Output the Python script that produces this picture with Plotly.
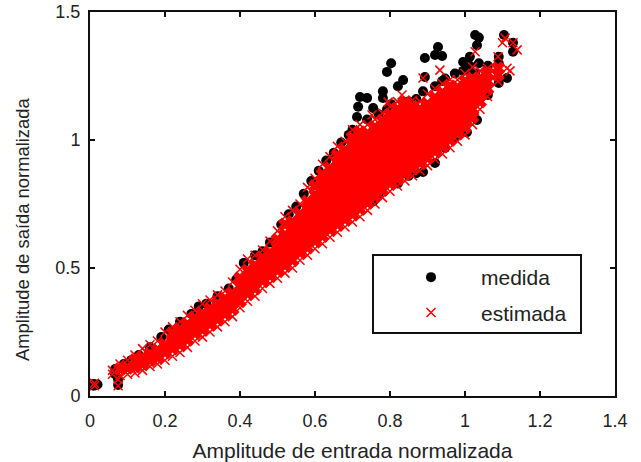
import plotly.graph_objects as go

x_ticks = [0, 0.2, 0.4, 0.6, 0.8, 1, 1.2, 1.4]
y_ticks = [0, 0.5, 1, 1.5]

medida_rows = [
    (0.01, [0.04, 0.047]), (0.02, [0.045]), (0.067, [0.085, 0.105]), (0.075, [0.043, 0.065]),
    (0.09, [0.125, 0.11]), (0.11, [0.14, 0.11]), (0.13, [0.16, 0.13]), (0.16, [0.19, 0.15]),
    (0.19, [0.23, 0.17]), (0.21, [0.26, 0.20]), (0.24, [0.29, 0.23]), (0.27, [0.32, 0.26]),
    (0.29, [0.35, 0.28]), (0.31, [0.36, 0.29]), (0.34, [0.39, 0.32]), (0.37, [0.42, 0.35]),
    (0.39, [0.455, 0.38]), (0.41, [0.52, 0.40]), (0.44, [0.55, 0.43]), (0.46, [0.565, 0.46]),
    (0.48, [0.60, 0.49]), (0.51, [0.67, 0.53]), (0.53, [0.71, 0.55]), (0.55, [0.74, 0.56]),
    (0.57, [0.79, 0.58]), (0.59, [0.84, 0.61]), (0.61, [0.88, 0.63]), (0.63, [0.92, 0.65]),
    (0.65, [0.95, 0.67]), (0.67, [0.99, 0.69]), (0.69, [1.02, 0.71]), (0.70, [1.04, 0.72]),
    (0.712, [1.09]), (0.715, [1.13]), (0.72, [1.168]), (0.739, [1.164, 1.08]), (0.755, [1.125, 0.76]),
    (0.77, [1.10, 0.79]), (0.781, [1.164, 1.19]), (0.792, [1.266, 1.12]), (0.803, [1.30, 1.14]),
    (0.821, [1.21, 0.83]), (0.835, [1.234, 1.15]), (0.85, [1.15, 0.86]), (0.87, [1.16, 0.87]),
    (0.888, [0.875, 1.19]), (0.893, [1.246, 1.32]), (0.92, [1.332, 1.21, 0.91]), (0.928, [1.363]),
    (0.939, [1.328, 1.23]), (0.947, [0.969, 1.24]), (0.973, [1.008, 1.26]), (0.995, [1.305, 1.27]),
    (1.005, [1.273, 1.03]), (1.013, [1.325, 1.29]), (1.027, [1.41, 1.26]), (1.032, [1.37, 1.078]),
    (1.037, [1.40, 1.30]), (1.061, [1.176, 1.29]), (1.09, [1.325, 1.223, 1.30]), (1.104, [1.41]),
    (1.112, [1.242]), (1.128, [1.38, 1.345]),
]

estimada_rows = [
    (0.012, [0.04, 0.05]), (0.075, [0.04, 0.065]),
    (0.06, [0.085, 0.10]), (0.08, [0.08, 0.105, 0.125]), (0.10, [0.085, 0.11, 0.14]),
    (0.12, [0.09, 0.115, 0.14, 0.16]), (0.14, [0.10, 0.125, 0.15, 0.185]),
    (0.16, [0.115, 0.14, 0.165, 0.20]), (0.18, [0.125, 0.15, 0.18, 0.215]),
    (0.20, [0.14, 0.17, 0.20, 0.25]), (0.22, [0.155, 0.185, 0.215, 0.245, 0.27]),
    (0.24, [0.17, 0.20, 0.23, 0.26, 0.29]), (0.26, [0.19, 0.22, 0.25, 0.28, 0.315]),
    (0.28, [0.215, 0.245, 0.275, 0.305, 0.335]), (0.30, [0.23, 0.26, 0.29, 0.32, 0.36]),
    (0.32, [0.25, 0.28, 0.31, 0.34, 0.375]), (0.34, [0.27, 0.30, 0.33, 0.36, 0.395]),
    (0.36, [0.29, 0.32, 0.35, 0.38, 0.41]), (0.38, [0.31, 0.34, 0.37, 0.40, 0.445]),
    (0.40, [0.345, 0.37, 0.40, 0.43, 0.46, 0.495]), (0.42, [0.37, 0.40, 0.43, 0.46, 0.49, 0.535]),
    (0.44, [0.39, 0.42, 0.45, 0.48, 0.51, 0.55]), (0.46, [0.42, 0.45, 0.48, 0.51, 0.54, 0.57]),
    (0.48, [0.44, 0.47, 0.50, 0.53, 0.56, 0.605]), (0.50, [0.46, 0.49, 0.52, 0.55, 0.58, 0.61, 0.645]),
    (0.52, [0.48, 0.51, 0.54, 0.57, 0.60, 0.63, 0.67, 0.70]),
    (0.54, [0.50, 0.53, 0.56, 0.59, 0.62, 0.65, 0.68, 0.725]),
    (0.56, [0.53, 0.56, 0.59, 0.62, 0.65, 0.68, 0.71, 0.75]),
    (0.58, [0.55, 0.58, 0.61, 0.64, 0.67, 0.70, 0.73, 0.76, 0.815]),
    (0.60, [0.575, 0.605, 0.635, 0.665, 0.695, 0.725, 0.755, 0.785, 0.82, 0.85]),
    (0.62, [0.595, 0.625, 0.655, 0.685, 0.715, 0.745, 0.775, 0.805, 0.835, 0.865, 0.905]),
    (0.64, [0.62, 0.65, 0.68, 0.71, 0.74, 0.77, 0.80, 0.83, 0.86, 0.89, 0.935]),
    (0.66, [0.64, 0.67, 0.70, 0.73, 0.76, 0.79, 0.82, 0.85, 0.88, 0.91, 0.94, 0.975]),
    (0.68, [0.66, 0.69, 0.72, 0.75, 0.78, 0.81, 0.84, 0.87, 0.90, 0.93, 0.96, 0.995]),
    (0.70, [0.68, 0.71, 0.74, 0.77, 0.80, 0.83, 0.86, 0.89, 0.92, 0.95, 0.98, 1.01, 1.04]),
    (0.72, [0.70, 0.73, 0.76, 0.79, 0.82, 0.85, 0.88, 0.91, 0.94, 0.97, 1.00, 1.03, 1.06]),
    (0.74, [0.725, 0.755, 0.785, 0.815, 0.845, 0.875, 0.905, 0.935, 0.965, 0.995, 1.025, 1.06]),
    (0.752, [1.098]),
    (0.76, [0.75, 0.78, 0.81, 0.84, 0.87, 0.90, 0.93, 0.96, 0.99, 1.02, 1.05, 1.08]),
    (0.78, [0.775, 0.805, 0.835, 0.865, 0.895, 0.925, 0.955, 0.985, 1.015, 1.045, 1.075, 1.105]),
    (0.795, [1.148]),
    (0.80, [0.80, 0.83, 0.86, 0.89, 0.92, 0.95, 0.98, 1.01, 1.04, 1.07, 1.10, 1.13]),
    (0.82, [0.82, 0.85, 0.88, 0.91, 0.94, 0.97, 1.00, 1.03, 1.06, 1.09, 1.12, 1.15]),
    (0.832, [1.176]),
    (0.84, [0.84, 0.87, 0.90, 0.93, 0.96, 0.99, 1.02, 1.05, 1.08, 1.11, 1.14, 1.155]),
    (0.86, [0.86, 0.89, 0.92, 0.95, 0.98, 1.01, 1.04, 1.07, 1.10, 1.13, 1.155]),
    (0.88, [0.88, 0.91, 0.94, 0.97, 1.00, 1.03, 1.06, 1.09, 1.12, 1.15]),
    (0.888, [1.242]),
    (0.90, [0.90, 0.93, 0.96, 0.99, 1.02, 1.05, 1.08, 1.11, 1.14, 1.18]),
    (0.92, [0.925, 0.955, 0.985, 1.015, 1.045, 1.075, 1.105, 1.135, 1.165, 1.20]),
    (0.933, [1.273]),
    (0.94, [0.945, 0.975, 1.005, 1.035, 1.065, 1.095, 1.125, 1.155, 1.185, 1.22]),
    (0.96, [0.97, 1.00, 1.03, 1.06, 1.09, 1.12, 1.15, 1.18, 1.21, 1.235]),
    (0.98, [0.995, 1.025, 1.055, 1.085, 1.115, 1.145, 1.175, 1.205, 1.235]),
    (1.00, [1.02, 1.05, 1.08, 1.11, 1.14, 1.17, 1.20, 1.23, 1.26]),
    (1.02, [1.06, 1.09, 1.12, 1.15, 1.18, 1.21, 1.24, 1.285]),
    (1.027, [1.345]),
    (1.04, [1.12, 1.15, 1.18, 1.21, 1.24, 1.27]),
    (1.06, [1.17, 1.20, 1.23, 1.26, 1.28]),
    (1.088, [1.23, 1.255, 1.28, 1.325]),
    (1.10, [1.38]), (1.107, [1.398]), (1.112, [1.28]), (1.12, [1.27]), (1.128, [1.38]), (1.139, [1.352]),
]

medida_x = [x for x, ys in medida_rows for _ in ys]
medida_y = [y for _, ys in medida_rows for y in ys]
estimada_x = [x for x, ys in estimada_rows for _ in ys]
estimada_y = [y for _, ys in estimada_rows for y in ys]
# Inner points of each column, drawn heavier so the dense cloud closes up as in the reference
miolo_x = [x for x, ys in estimada_rows for _ in ys[1:-1]]
miolo_y = [y for _, ys in estimada_rows for y in ys[1:-1]]

fig = go.Figure()
fig.add_trace(go.Scatter(
    x=medida_x, y=medida_y, mode="markers", name="medida", legendgroup="a",
    marker=dict(symbol="circle", color="black", size=10),
))
fig.add_trace(go.Scatter(
    x=estimada_x, y=estimada_y, mode="markers", name="estimada", legendgroup="b",
    marker=dict(symbol="x-thin", size=9, color="red", line=dict(color="red", width=1.5)),
))
fig.add_trace(go.Scatter(
    x=miolo_x, y=miolo_y, mode="markers", showlegend=False, legendgroup="b",
    marker=dict(symbol="x-thin", size=10, color="red", line=dict(color="red", width=5.6)),
))

axis_common = dict(
    ticks="inside", ticklen=5, tickwidth=1.5, tickcolor="#111",
    showline=True, linecolor="#111", linewidth=2, mirror="ticks",
    showgrid=False, zeroline=False,
    tickfont=dict(family="Liberation Sans", size=18, color="#222"),
)
fig.update_xaxes(
    range=[0, 1.4], tickvals=x_ticks, ticktext=["0", "0.2", "0.4", "0.6", "0.8", "1", "1.2", "1.4"],
    ticklabelstandoff=7,
    title=dict(text="Amplitude de entrada normalizada", standoff=18,
               font=dict(family="Liberation Sans", size=21, color="#222")),
    **axis_common,
)
fig.update_yaxes(
    range=[0, 1.5], tickvals=y_ticks, ticktext=["0", "0.5", "1", "1.5"],
    ticklabelstandoff=4,
    **axis_common,
)
fig.add_annotation(
    x=0, xref="paper", xanchor="center", xshift=-68,
    y=0.5, yref="paper", yanchor="middle", yshift=-25,
    text="Amplitude de saída normalizada", textangle=-90, showarrow=False,
    font=dict(family="Liberation Sans", size=18.4, color="#222"),
)
# Legend frame, in plot fractions
fig.add_shape(
    type="rect", xref="paper", yref="paper", layer="above",
    x0=(373 - 90) / 525, x1=(581 - 90) / 525, y0=(396 - 333) / 384, y1=(396 - 255) / 384,
    fillcolor="white", line=dict(color="#111", width=2),
)
fig.update_layout(
    width=641, height=462, margin=dict(l=90, r=26, t=12, b=66, autoexpand=False),
    paper_bgcolor="white", plot_bgcolor="white",
    legend=dict(
        x=(381 - 90) / 525, y=(396 - 257) / 384, xanchor="left", yanchor="top",
        bgcolor="rgba(0,0,0,0)", borderwidth=0,
        font=dict(family="Liberation Sans", size=21, color="#222"),
        itemwidth=90, tracegroupgap=5, traceorder="grouped",
    ),
)
fig.write_html("out.html", config={"displayModeBar": False}, post_script="document.body.style.margin='0';")
